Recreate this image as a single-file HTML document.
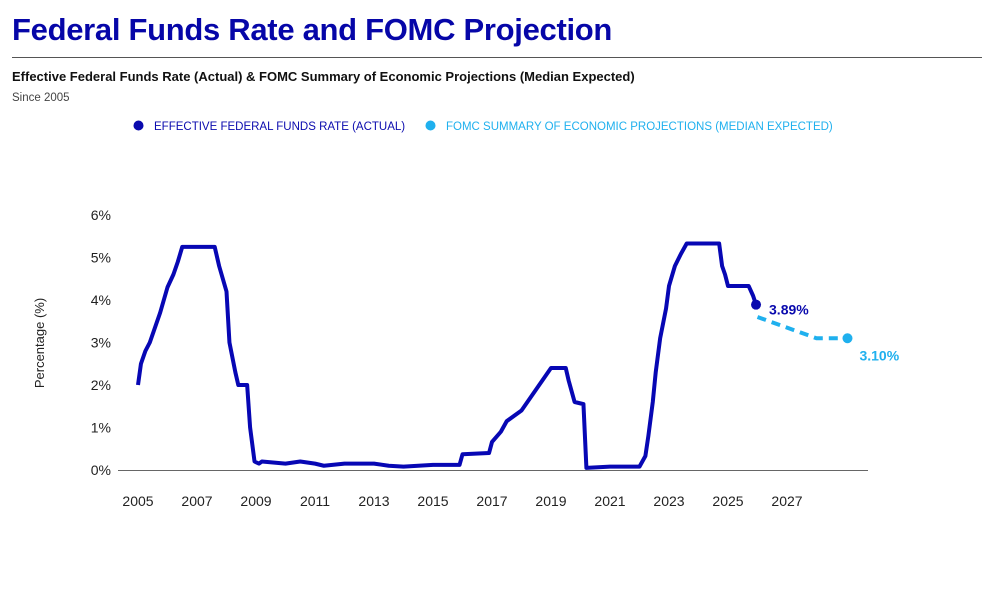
<!DOCTYPE html>
<html><head><meta charset="utf-8"><style>
body{margin:0;width:1004px;height:591px;background:#fff;font-family:"Liberation Sans",sans-serif;overflow:hidden;position:relative}
.t{position:absolute;white-space:nowrap}
</style></head><body>
<div class="t" style="left:12px;top:12px;font-size:31px;font-weight:900;color:#0606a8;letter-spacing:-0.3px">Federal Funds Rate and FOMC Projection</div>
<div style="position:absolute;left:12px;top:57px;width:970px;height:1px;background:#555"></div>
<div class="t" style="left:12px;top:69px;font-size:13px;font-weight:bold;color:#111">Effective Federal Funds Rate (Actual) &amp; FOMC Summary of Economic Projections (Median Expected)</div>
<div class="t" style="left:12px;top:92px;font-size:11.5px;color:#444">Since 2005</div>
<svg id="c" width="1004" height="591" style="position:absolute;left:0;top:0">
<g>
<circle cx="138.5" cy="125.5" r="5" fill="#0a0aae"/>
<text x="154" y="130" font-size="11.5" fill="#0a0aae">EFFECTIVE FEDERAL FUNDS RATE (ACTUAL)</text>
<circle cx="430.5" cy="125.5" r="5" fill="#1fb0ee"/>
<text x="446" y="130" font-size="11.5" fill="#1fb0ee">FOMC SUMMARY OF ECONOMIC PROJECTIONS (MEDIAN EXPECTED)</text>
</g>
<text transform="translate(44,343) rotate(-90)" text-anchor="middle" font-size="13" fill="#222">Percentage (%)</text>
</svg>
<script>
const yTicks=[0,1,2,3,4,5,6];
const xTicks=[2005,2007,2009,2011,2013,2015,2017,2019,2021,2023,2025,2027];
const actualYears=[2005.0,2005.1,2005.25,2005.4,2005.6,2005.75,2006.0,2006.2,2006.35,2006.5,2007.0,2007.6,2007.75,2008.0,2008.1,2008.3,2008.4,2008.7,2008.8,2008.95,2009.1,2009.2,2010.0,2010.5,2011.0,2011.3,2012.0,2013.0,2013.5,2014.0,2015.0,2015.9,2016.0,2016.9,2017.0,2017.3,2017.5,2018.0,2018.3,2018.5,2018.8,2019.0,2019.5,2019.6,2019.8,2020.1,2020.2,2021.0,2022.0,2022.2,2022.3,2022.45,2022.55,2022.7,2022.9,2023.0,2023.2,2023.4,2023.6,2024.7,2024.8,2024.9,2025.0,2025.7,2025.85,2025.95];
const actualValues=[2.0,2.5,2.8,3.0,3.4,3.7,4.3,4.6,4.9,5.25,5.25,5.25,4.8,4.2,3.0,2.3,2.0,2.0,1.0,0.2,0.15,0.2,0.15,0.2,0.15,0.1,0.15,0.15,0.1,0.08,0.12,0.12,0.37,0.4,0.66,0.9,1.15,1.4,1.7,1.9,2.2,2.4,2.4,2.1,1.6,1.55,0.05,0.08,0.08,0.33,0.8,1.6,2.3,3.1,3.8,4.33,4.8,5.08,5.33,5.33,4.8,4.6,4.33,4.33,4.1,3.89];
const projYears=[2026.0,2027.0,2028.0,2029.05];
const projValues=[3.6,3.35,3.1,3.1];
const labelActual="3.89%", labelProj="3.10%";
const NS="http://www.w3.org/2000/svg";
const svg=document.getElementById('c');
const X=y=>138+(y-2005)*29.5, Y=v=>470-v*42.5;
function mk(t,a){const e=document.createElementNS(NS,t);for(const k in a)e.setAttribute(k,a[k]);svg.appendChild(e);return e;}
yTicks.forEach(v=>{const e=mk('text',{x:111,y:Y(v)+5,'text-anchor':'end','font-size':14,fill:'#222'});e.textContent=v+'%';

});
xTicks.forEach(v=>{const e=mk('text',{x:X(v),y:506,'text-anchor':'middle','font-size':14,fill:'#222'});e.textContent=v;

});
const ax=mk('line',{x1:118,x2:868,y1:470.5,y2:470.5,stroke:'#666','stroke-width':1});


const pa=mk('polyline',{points:actualYears.map((y,i)=>X(y)+','+Y(actualValues[i])).join(' '),fill:'none',stroke:'#0707b4','stroke-width':4,'stroke-linejoin':'round'});


const pp=mk('polyline',{points:projYears.map((y,i)=>X(y)+','+Y(projValues[i])).join(' '),fill:'none',stroke:'#1fb0ee','stroke-width':4,'stroke-dasharray':'9,6'});


const la=actualYears.length-1;
const d1=mk('circle',{cx:X(actualYears[la]),cy:Y(actualValues[la]),r:5,fill:'#0a0aae'});


const lp=projYears.length-1;
const d2=mk('circle',{cx:X(projYears[lp]),cy:Y(projValues[lp]),r:5,fill:'#1fb0ee'});


const t1=mk('text',{x:X(actualYears[la])+13,y:Y(actualValues[la])+10,'font-size':14,'font-weight':'bold',fill:'#0a0aae'});t1.textContent=labelActual;


const t2=mk('text',{x:X(projYears[lp])+12,y:Y(projValues[lp])+22,'font-size':14,'font-weight':'bold',fill:'#1fb0ee'});t2.textContent=labelProj;


</script>
</body></html>
